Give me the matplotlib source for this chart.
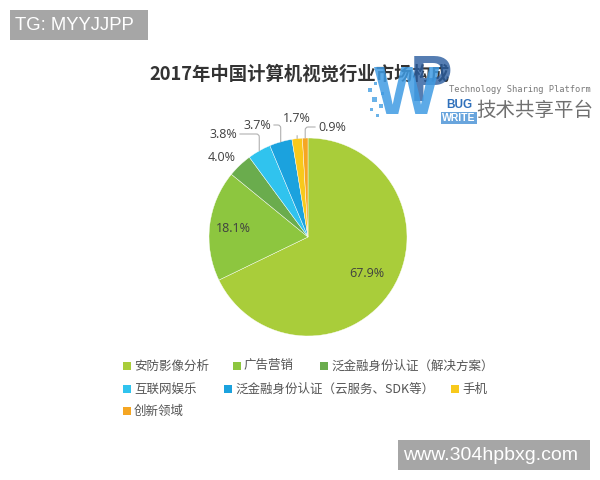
import numpy as np
import matplotlib
matplotlib.use("Agg")
import matplotlib.pyplot as plt
from matplotlib.patches import Rectangle

plt.rcParams['font.family'] = ['Noto Sans CJK SC', 'DejaVu Sans']

title = "2017年中国计算机视觉行业市场构成"
categories = ["安防影像分析", "广告营销", "泛金融身份认证（解决方案）", "互联网娱乐",
              "泛金融身份认证（云服务、SDK等）", "手机", "创新领域"]
values = [67.9, 18.1, 4.0, 3.8, 3.7, 1.7, 0.9]
colors = ["#a9cd3a", "#8dc63f", "#6aac4d", "#30c3ee", "#1ba2de", "#f8c91c", "#f5a623"]

W, H = 600, 480
fig = plt.figure(figsize=(6, 4.8), dpi=100)
fig.patch.set_facecolor("white")

cx, cy, R = 308, 237, 99
half = 112
ax = fig.add_axes([(cx - half) / W, (H - cy - half) / H, 2 * half / W, 2 * half / H])
wedges, _ = ax.pie(values, colors=colors, startangle=90, counterclock=False, radius=1,
                   wedgeprops=dict(edgecolor="white", linewidth=0.3))
lim = half / R
ax.set_xlim(-lim, lim)
ax.set_ylim(-lim, lim)
ax.axis("off")

def P(px, py):
    return ((px - cx) / R, (cy - py) / R)

def mid(w):
    a = np.deg2rad((w.theta1 + w.theta2) / 2)
    return np.cos(a), np.sin(a)

labels = [f"{v:.1f}%" for v in values]
tc = "#404040"
lf = ["Open Sans", "DejaVu Sans"]
# inside labels
for i, r in [(0, 0.70), (1, 0.76)]:
    c, s = mid(wedges[i])
    ax.text(r * c, r * s, labels[i], ha="center", va="center", fontsize=9, color=tc, family=lf)

# outside labels with leaders
ax.text(*P(222, 157), labels[2], ha="center", va="center", fontsize=9, color=tc, family=lf)
lp = dict(arrowstyle="-", color="#b0b0b0", lw=0.8, shrinkA=0, shrinkB=0)
outs = [(3, (237, 134), "right"), (4, (271, 125), "right"), (6, (318, 127), "left")]
for i, (px, py), ha in outs:
    c, s = mid(wedges[i])
    ax.annotate(labels[i], xy=(c, s), xytext=P(px, py), ha=ha, va="center",
                fontsize=9, color=tc, family=lf,
                arrowprops=dict(connectionstyle="angle,angleA=0,angleB=90,rad=3", **lp))
c, s = mid(wedges[5])
ax.annotate(labels[5], xy=(c, s), xytext=P(297, 118), ha="center", va="center",
            fontsize=9, color=tc, family=lf,
            arrowprops=dict(connectionstyle="arc3,rad=0", **{**lp, "shrinkA": 6}))

# title
fig.text(300 / W, 1 - 74 / H, title, ha="center", va="center", fontsize=13.2,
         fontweight="bold", color="#333333")

# legend (manual layout)
leg_pos = [(127, 366), (237, 366), (324, 366), (127, 389), (228, 389), (455, 389), (127, 411)]
sq = 8
for (px, py), lab, col in zip(leg_pos, categories, colors):
    fig.patches.append(Rectangle(((px - sq / 2) / W, 1 - (py + sq / 2) / H), sq / W, sq / H,
                                 transform=fig.transFigure, facecolor=col, edgecolor="none"))
    fig.text((px + 7) / W, 1 - py / H, lab, ha="left", va="center", fontsize=9, color="#555555")

# logo watermark
for (px, py, s) in [(368, 88, 4), (374, 82, 3), (372, 97, 5), (379, 104, 4), (370, 108, 3),
                    (381, 92, 3), (376, 114, 3)]:
    fig.patches.append(Rectangle((px / W, 1 - (py + s) / H), s / W, s / H,
                                 transform=fig.transFigure, facecolor="#5aaae6",
                                 edgecolor="none", alpha=0.9))
fig.text(431 / W, 1 - 84 / H, "P", ha="center", va="center", fontsize=46, fontweight="bold",
         color="#2a5d9f", alpha=0.8, family=["Liberation Sans"])
fig.text(407 / W, 1 - 96 / H, "W", ha="center", va="center", fontsize=50, fontweight="bold",
         color="#3f9be3", alpha=0.85, family=["Liberation Sans"])
fig.text(459 / W, 1 - 105 / H, "BUG", ha="center", va="center", fontsize=8.5, color="#2f70bb",
         family=["Liberation Sans Narrow", "Liberation Sans"], fontweight="bold")
fig.text(459 / W, 1 - 118 / H, "WRITE", ha="center", va="center", fontsize=7.5, color="white",
         family=["Liberation Sans Narrow", "Liberation Sans"], fontweight="bold",
         bbox=dict(boxstyle="square,pad=0.1", facecolor="#4f95d8", edgecolor="none", alpha=0.85))
fig.text(520 / W, 1 - 90 / H, "Technology Sharing Platform", ha="center", va="center",
         fontsize=6.3, color="#7a7a7a", family=["DejaVu Sans Mono"])
fig.text(535 / W, 1 - 110 / H, "技术共享平台", ha="center", va="center", fontsize=14,
         fontweight="medium", color="#707070")

# corner watermarks
fig.patches.append(Rectangle((10 / W, 1 - 40 / H), 138 / W, 30 / H, transform=fig.transFigure,
                             facecolor="#a6a6a6", edgecolor="none"))
fig.text(15 / W, 1 - 25 / H, "TG: MYYJJPP", ha="left", va="center", fontsize=13.3,
         color="white", family=["Liberation Sans"])
fig.patches.append(Rectangle((398 / W, 1 - 470 / H), 192 / W, 30 / H, transform=fig.transFigure,
                             facecolor="#a6a6a6", edgecolor="none"))
fig.text(403 / W, 1 - 455 / H, "www.304hpbxg.com", ha="left", va="center", fontsize=14,
         color="white", family=["Liberation Sans"])

fig.savefig("out.png", dpi=100, facecolor="white")
